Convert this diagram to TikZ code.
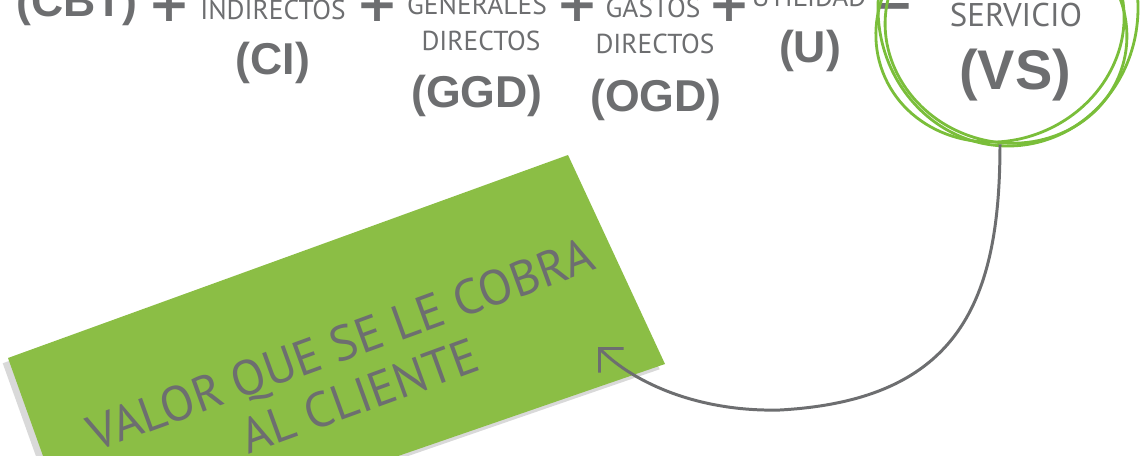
\documentclass[tikz,border=0pt]{standalone}
\usepackage{fontspec}
\setmainfont{PT Sans}
\newfontfamily\abbrfont{Liberation Sans}
\newfontfamily\signfont{DejaVu Sans}
\usetikzlibrary{arrows.meta,shadows}
\definecolor{textgray}{RGB}{109,110,112}
\definecolor{ringgreen}{RGB}{122,190,58}
\definecolor{cardgreen}{RGB}{139,190,69}

\begin{document}
\begin{tikzpicture}[
  x=0.02cm, y=-0.02cm,
  every node/.style={text=textgray, inner sep=0pt},
  word/.style={anchor=base, font=\fontsize{15.6}{18}\selectfont},
  bigword/.style={anchor=base, font=\fontsize{18.7}{22}\selectfont},
  abbr/.style={anchor=base, font=\abbrfont\bfseries\fontsize{25.4}{30}\selectfont},
  bigabbr/.style={anchor=base, font=\abbrfont\bfseries\fontsize{31.8}{36}\selectfont},
  sign/.style={anchor=base, font=\signfont\bfseries\fontsize{28.5}{32}\selectfont},
  ring/.style={draw=ringgreen, line width=1.6pt},
  link/.style={draw=textgray, line width=1.7pt, -{Straight Barb[length=3.4mm,width=6.8mm]}},
  cardtext/.style={align=center, rotate=20, font=\fontsize{28}{31.3}\selectfont}
]
\useasboundingbox (0,0) rectangle (1140,456);
\clip (0,0) rectangle (1140,456);

% --- la formule ---
\node[abbr] (cbt) at (77,17) {(CBT)};
\node[sign] (plus1) at (169,22) {+};
\node[word] (ci1) at (273,20) {INDIRECTOS};
\node[abbr] (ci) at (273,75) {(CI)};
\node[sign] (plus2) at (377,22) {+};
\node[word] (ggd1) at (477,15) {GENERALES};
\node[word] (ggd2) at (481,51) {DIRECTOS};
\node[abbr] (ggd) at (477,108) {(GGD)};
\node[sign] (plus3) at (577,22) {+};
\node[word] (ogd1) at (653,18) {GASTOS};
\node[word] (ogd2) at (655,54) {DIRECTOS};
\node[abbr] (ogd) at (656,112) {(OGD)};
\node[sign] (plus4) at (729,22) {+};
\node[word] (u1) at (809,7) {UTILIDAD};
\node[abbr] (u) at (810,63) {(U)};
\node[sign] (equal) at (893,17) {=};
\node[bigword] (vs1) at (1016,27) {SERVICIO};
\node[bigabbr] (vs) at (1015,90) {(VS)};

% --- le cercle vert autour de (VS) ---
\node[circle, minimum size=4.48cm] (ring) at (1000,32) {};
\draw[ring] (1008,8) ellipse [x radius=130, y radius=138];
\draw[ring, rotate around={-20:(1006,30)}] (1006,30) ellipse [x radius=122, y radius=112];
\draw[ring, rotate around={24:(1000,26)}] (1000,26) ellipse [x radius=126, y radius=114];

% --- la carte verte ---
\fill[cardgreen, drop shadow={shadow xshift=-3pt, shadow yshift=-3pt, opacity=0.3}]
  (8,358) -- (568,155) -- (665,364) -- (82,565) -- cycle;
\node[cardtext] (cliente) at (350,370) {VALOR QUE SE LE COBRA\\AL CLIENTE};
\coordinate (tip) at (598,347);

% --- la fleche ---
\draw[link] (ring.south) .. controls (1000,300) and (960,400) .. (780,410)
  .. controls (700,412) and (635,384) .. (tip);

\end{tikzpicture}
\end{document}
